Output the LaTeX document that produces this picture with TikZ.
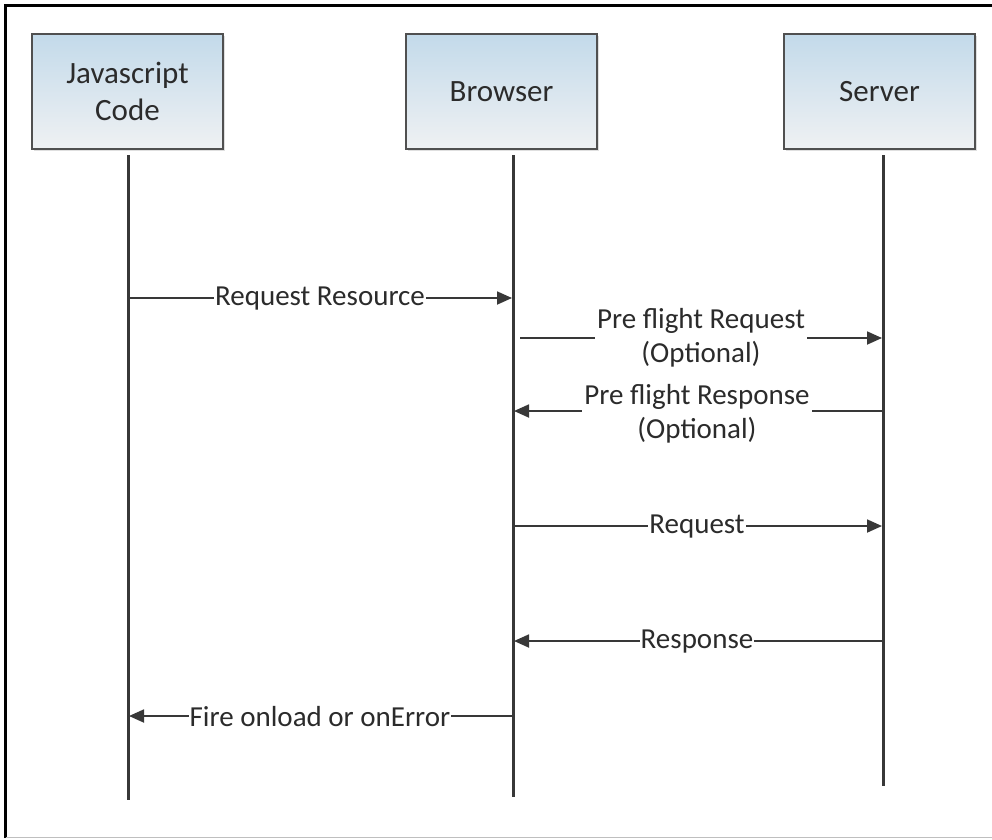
\documentclass[tikz,border=0pt]{standalone}
\usepackage{fontspec}
\setmainfont{Carlito}
\usetikzlibrary{arrows.meta,shadows}
\definecolor{boxtop}{HTML}{C3DAEA}
\definecolor{boxbot}{HTML}{EFF1F3}
\definecolor{edge}{HTML}{505050}
\definecolor{ink}{HTML}{383838}
\definecolor{txt}{HTML}{2B2B2B}
\begin{document}
\begin{tikzpicture}[x=1pt,y=-1pt,
  actor/.style={draw=edge,line width=1.5pt,top color=boxtop,bottom color=boxbot,
    minimum width=191pt,minimum height=115pt,align=center,font=\fontsize{31}{37}\selectfont,
    text=txt,drop shadow={shadow xshift=2pt,shadow yshift=-2pt,opacity=0.25}},
  life/.style={draw=ink,line width=3pt},
  msg/.style={draw=ink,line width=1.8pt,-{Triangle[length=15pt,width=13pt]}},
  lbl/.style={fill=white,inner sep=1pt,font=\fontsize{29}{34}\selectfont,text=txt,align=center}]
\useasboundingbox (0,0) rectangle (992,839);
\fill[white] (0,0) rectangle (992,839);
\draw[black,line width=3pt] (5.5,838) -- (5.5,5.5) -- (992,5.5);
\draw[gray!50,line width=1.5pt] (5.5,837.5) -- (992,837.5);

\node[actor] (js) at (127.5,91.5) {Javascript\\Code};
\node[actor] (br) at (501.5,91.5) {Browser};
\node[actor] (sv) at (879.5,91.5) {Server};

\coordinate (jsT) at (128,155); \coordinate (jsB) at (128,800);
\coordinate (brT) at (513,155); \coordinate (brB) at (513,797);
\coordinate (svT) at (883,155); \coordinate (svB) at (883,786);
\draw[life] (jsT) -- (jsB);
\draw[life] (brT) -- (brB);
\draw[life] (svT) -- (svB);

% messages
\coordinate (a1) at (128,298); \coordinate (b1) at (512,298);
\coordinate (a2) at (520,338); \coordinate (b2) at (882,338);
\coordinate (a3) at (883,411); \coordinate (b3) at (514,411);
\coordinate (a4) at (513,526); \coordinate (b4) at (882,526);
\coordinate (a5) at (883,641); \coordinate (b5) at (514,641);
\coordinate (a6) at (513,716); \coordinate (b6) at (129,716);

\draw[msg] (a1) -- (b1);
\node[lbl] (l1) at (320,299) {Request Resource};
\draw[msg] (a2) -- (b2);
\node[lbl,inner xsep=2pt] (l2) at (701,338) {Pre flight Request\\(Optional)};
\draw[msg] (a3) -- (b3);
\node[lbl,inner xsep=2pt] (l3) at (697,414) {Pre flight Response\\(Optional)};
\draw[msg] (a4) -- (b4);
\node[lbl] (l4) at (697,527) {Request};
\draw[msg] (a5) -- (b5);
\node[lbl] (l5) at (697,642) {Response};
\draw[msg] (a6) -- (b6);
\node[lbl] (l6) at (320,717) {Fire onload or onError};
\end{tikzpicture}
\end{document}
